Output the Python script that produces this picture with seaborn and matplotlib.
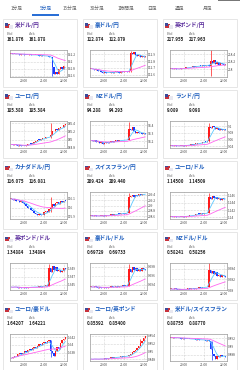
import numpy as np
import pandas as pd
import matplotlib
matplotlib.use("Agg")
import matplotlib.pyplot as plt
import seaborn as sns
from matplotlib.patches import Rectangle

sns.set_style("white")
plt.rcParams['font.family'] = ['Noto Sans CJK JP', 'DejaVu Sans']

# --- data -------------------------------------------------------------
tabs = ["1分足", "5分足", "15分足", "30分足", "1時間足", "日足", "週足", "月足"]

titles = ["米ドル/円", "豪ドル/円", "英ポンド/円",
          "ユーロ/円", "NZドル/円", "ランド/円",
          "カナダドル/円", "スイスフラン/円", "ユーロ/ドル",
          "英ポンド/ドル", "豪ドル/ドル", "NZドル/ドル",
          "ユーロ/豪ドル", "ユーロ/英ポンド", "米ドル/スイスフラン"]
bids = ["161.876", "112.874", "217.955", "185.380", "94.288", "9.089",
        "116.075", "209.424", "1.14500", "1.34884", "0.69729", "0.58241",
        "1.64207", "0.85392", "0.88755"]
asks = ["161.878", "112.879", "217.963", "185.384", "94.293", "9.098",
        "116.081", "209.440", "1.14509", "1.34894", "0.69733", "0.58256",
        "1.64221", "0.85400", "0.88770"]

time_labels = ["20:00", "21:00", "22:00"]
time_index = [8, 20, 32]

usdjpy = [162.22, 162.21, 162.22, 162.20, 162.21, 162.19, 162.20, 162.21, 162.19, 162.18,
          162.19, 162.20, 162.18, 162.17, 162.18, 162.19, 162.17, 162.16, 162.17, 162.15,
          162.16, 162.14, 162.15, 162.13, 162.12, 161.85, 161.66, 161.72, 161.64, 161.78,
          161.84, 161.80, 161.87, 161.876]
audjpy = [112.69, 112.68, 112.67, 112.68, 112.66, 112.65, 112.64, 112.63, 112.64, 112.63,
          112.62, 112.63, 112.64, 112.63, 112.64, 112.65, 112.64, 112.63, 112.65, 112.64,
          112.66, 112.65, 112.64, 112.65, 112.92, 112.90, 112.93, 112.89, 112.87, 112.89,
          112.86, 112.88, 112.86, 112.874]
gbpjpy = [218.02, 218.01, 218.03, 218.02, 218.00, 218.01, 218.03, 218.04, 218.03, 218.05,
          218.06, 218.05, 218.07, 218.08, 218.07, 218.09, 218.08, 218.10, 218.09, 218.11,
          218.10, 218.12, 218.11, 218.10, 218.22, 218.18, 218.25, 218.15, 218.20, 218.12,
          218.16, 218.14, 218.12, 218.13]
eurjpy = [184.88, 184.87, 184.88, 184.86, 184.85, 184.86, 184.84, 184.85, 184.84, 184.86,
          184.88, 184.90, 184.89, 184.92, 184.95, 184.97, 185.00, 184.99, 185.02, 185.04,
          185.03, 185.06, 185.07, 185.06, 185.12, 185.22, 185.20, 185.25, 185.24, 185.29,
          185.31, 185.30, 185.35, 185.38]
nzdjpy = [94.21, 94.20, 94.21, 94.19, 94.20, 94.18, 94.19, 94.17, 94.18, 94.19,
          94.18, 94.19, 94.20, 94.19, 94.20, 94.21, 94.20, 94.21, 94.22, 94.21,
          94.22, 94.21, 94.22, 94.36, 94.34, 94.38, 94.33, 94.31, 94.32, 94.30,
          94.31, 94.29, 94.30, 94.288]
zarjpy = [9.042, 9.041, 9.043, 9.042, 9.040, 9.041, 9.042, 9.043, 9.042, 9.044,
          9.043, 9.045, 9.046, 9.045, 9.047, 9.048, 9.050, 9.049, 9.051, 9.052,
          9.054, 9.053, 9.055, 9.098, 9.094, 9.100, 9.096, 9.092, 9.094, 9.088,
          9.091, 9.088, 9.090, 9.089]
cadjpy = [116.10, 116.09, 116.10, 116.08, 116.07, 116.06, 116.07, 116.05, 116.04, 116.02,
          116.00, 115.99, 115.97, 115.96, 115.94, 115.93, 115.92, 115.93, 115.91, 115.92,
          115.95, 115.96, 115.95, 115.98, 116.00, 116.04, 116.02, 116.05, 116.06, 116.04,
          116.07, 116.06, 116.08, 116.075]
chfjpy = [208.62, 208.61, 208.63, 208.62, 208.60, 208.61, 208.62, 208.63, 208.62, 208.64,
          208.63, 208.65, 208.66, 208.65, 208.67, 208.68, 208.70, 208.69, 208.71, 208.72,
          208.70, 208.72, 208.73, 209.30, 209.35, 209.40, 209.32, 209.38, 209.36, 209.42,
          209.40, 209.44, 209.41, 209.424]
eurusd = [1.1402, 1.1401, 1.1403, 1.1402, 1.1400, 1.1401, 1.1402, 1.1403, 1.1402, 1.1404,
          1.1403, 1.1405, 1.1406, 1.1405, 1.1407, 1.1408, 1.1410, 1.1409, 1.1411, 1.1410,
          1.1412, 1.1411, 1.1413, 1.1455, 1.1450, 1.1458, 1.1452, 1.1456, 1.1449, 1.1453,
          1.1447, 1.1452, 1.1449, 1.1450]
gbpusd = [1.3445, 1.3444, 1.3446, 1.3445, 1.3443, 1.3444, 1.3442, 1.3443, 1.3444, 1.3443,
          1.3445, 1.3444, 1.3446, 1.3445, 1.3444, 1.3446, 1.3445, 1.3447, 1.3446, 1.3448,
          1.3447, 1.3449, 1.3448, 1.3490, 1.3480, 1.3495, 1.3485, 1.3492, 1.3482, 1.3486,
          1.3480, 1.3484, 1.3490, 1.34884]
audusd = [0.6935, 0.6934, 0.6936, 0.6935, 0.6933, 0.6934, 0.6932, 0.6933, 0.6934, 0.6933,
          0.6935, 0.6934, 0.6936, 0.6935, 0.6934, 0.6936, 0.6935, 0.6937, 0.6936, 0.6938,
          0.6937, 0.6938, 0.6937, 0.6975, 0.6968, 0.6980, 0.6972, 0.6977, 0.6970, 0.6974,
          0.6970, 0.6976, 0.6975, 0.69729]
nzdusd = [0.5802, 0.5801, 0.5803, 0.5802, 0.5800, 0.5801, 0.5800, 0.5801, 0.5802, 0.5801,
          0.5803, 0.5802, 0.5804, 0.5803, 0.5802, 0.5804, 0.5803, 0.5805, 0.5804, 0.5806,
          0.5805, 0.5806, 0.5805, 0.5838, 0.5832, 0.5836, 0.5830, 0.5833, 0.5827, 0.5829,
          0.5825, 0.5828, 0.5826, 0.58241]
euraud = [1.6365, 1.6368, 1.6372, 1.6370, 1.6375, 1.6378, 1.6376, 1.6380, 1.6383, 1.6381,
          1.6386, 1.6389, 1.6387, 1.6392, 1.6395, 1.6393, 1.6398, 1.6401, 1.6399, 1.6404,
          1.6407, 1.6405, 1.6410, 1.6412, 1.6383, 1.6378, 1.6372, 1.6385, 1.6395, 1.6390,
          1.6405, 1.6412, 1.6416, 1.6421]
eurgbp = [0.8481, 0.8480, 0.8482, 0.8481, 0.8480, 0.8481, 0.8482, 0.8481, 0.8483, 0.8482,
          0.8484, 0.8483, 0.8485, 0.8484, 0.8486, 0.8485, 0.8487, 0.8486, 0.8488, 0.8487,
          0.8489, 0.8488, 0.8490, 0.8491, 0.8495, 0.8498, 0.8502, 0.8505, 0.8510, 0.8515,
          0.8522, 0.8528, 0.8535, 0.8539]
usdchf = [0.8921, 0.8922, 0.8921, 0.8920, 0.8921, 0.8920, 0.8919, 0.8920, 0.8919, 0.8918,
          0.8919, 0.8918, 0.8917, 0.8918, 0.8917, 0.8916, 0.8917, 0.8916, 0.8915, 0.8916,
          0.8915, 0.8914, 0.8915, 0.8913, 0.8895, 0.8882, 0.8878, 0.8870, 0.8878, 0.8874,
          0.8880, 0.8876, 0.8877, 0.88755]

series = [usdjpy, audjpy, gbpjpy, eurjpy, nzdjpy, zarjpy, cadjpy, chfjpy, eurusd,
          gbpusd, audusd, nzdusd, euraud, eurgbp, usdchf]

# news-spike candle per chart: index, high, low
spike_at = [25, 24, 24, 24, 23, 23, 24, 23, 23, 23, 23, 23, 24, 30, 25]
spike_hi = [162.13, 112.95, 218.50, 185.42, 94.44, 9.110, 116.12, 209.48, 1.1466,
            1.3500, 0.6986, 0.5850, 1.6413, 0.8532, 0.8914]
spike_lo = [161.60, 112.64, 217.82, 185.05, 94.21, 9.054, 115.95, 208.72, 1.1412,
            1.3448, 0.6937, 0.5805, 1.6368, 0.8515, 0.8868]

yticks = [[161.6, 161.8, 162, 162.2], [112.6, 112.7, 112.8, 112.9], [218, 218.2, 218.4],
          [184.8, 185, 185.2, 185.4], [94.2, 94.3, 94.4], [9.04, 9.06, 9.08, 9.1],
          [115.9, 116, 116.1], [208.6, 208.8, 209, 209.2, 209.4], [1.14, 1.142, 1.144, 1.146],
          [1.345, 1.347, 1.349], [0.694, 0.696, 0.698], [0.58, 0.582, 0.584],
          [1.638, 1.64, 1.642], [0.848, 0.85, 0.852, 0.854], [0.888, 0.89, 0.892]]
ylims = [(161.57, 162.32), (112.565, 112.965), (217.80, 218.51), (184.79, 185.46),
         (94.115, 94.455), (9.035, 9.115), (115.869, 116.177), (208.5, 209.5),
         (1.13954, 1.14692), (1.3438, 1.3502), (0.6928, 0.6988), (0.58, 0.58508),
         (1.6358, 1.6428), (0.8476, 0.8545), (0.8865, 0.8930)]

title_colors = ['#5a2d9c', '#1f5fbf', '#5a2d9c', '#1f5fbf', '#1f5fbf', '#1f5fbf',
                '#1f5fbf', '#1f5fbf', '#1f5fbf', '#5a2d9c', '#1f5fbf', '#1f5fbf',
                '#1f5fbf', '#1f5fbf', '#1f5fbf']

# --- figure -----------------------------------------------------------
W, H = 240, 370
fig = plt.figure(figsize=(W / 100, H / 100), dpi=100)
fig.patch.set_facecolor('white')


def fx(px):
    return px / W


def fy(py):
    return 1 - py / H


tab_x = [17, 46, 70, 97, 126, 152, 180, 208]
for i, t in enumerate(tabs):
    fig.text(fx(tab_x[i]), fy(8.5), t, fontsize=3.4, ha='center', va='center',
             color='#1f5fbf' if i == 1 else '#666666')
fig.add_artist(Rectangle((fx(32), fy(15.5)), 27 / W, 1.3 / H, transform=fig.transFigure,
                         color='#2a6fd6', lw=0))
fig.add_artist(Rectangle((0, fy(18.3)), 1, 0.5 / H, transform=fig.transFigure,
                         color='#e4e4e4', lw=0))
fig.add_artist(Rectangle((fx(218), fy(1.2)), 22 / W, 1.2 / H, transform=fig.transFigure,
                         color='#777777', lw=0))

for k, closes in enumerate(series):
    r, c = divmod(k, 3)
    ox, oy = 80 * c, 71 * r

    fig.add_artist(Rectangle((fx(ox + 3), fy(oy + 87)), 74 / W, 68 / H,
                             transform=fig.transFigure, fill=False, ec='#e2e2e2', lw=0.6))
    # flag
    fig.add_artist(Rectangle((fx(ox + 5), fy(oy + 27.5)), 5 / W, 4 / H,
                             transform=fig.transFigure, color='#c8323c', lw=0))
    fig.add_artist(Rectangle((fx(ox + 5), fy(oy + 25.5)), 2.5 / W, 2 / H,
                             transform=fig.transFigure, color='#3a4a9a', lw=0))
    fig.add_artist(Rectangle((fx(ox + 9), fy(oy + 28.5)), 4 / W, 3 / H,
                             transform=fig.transFigure, color='#e8e8f0', lw=0))
    fig.text(fx(ox + 15), fy(oy + 25), titles[k], fontsize=4.1, ha='left', va='center',
             color=title_colors[k], fontweight='bold')
    fig.text(fx(ox + 7), fy(oy + 34), "Bid", fontsize=3.0, ha='left', va='center',
             color='#777777')
    fig.text(fx(ox + 29), fy(oy + 34), "Ask", fontsize=3.0, ha='left', va='center',
             color='#777777')
    fig.text(fx(ox + 7), fy(oy + 39.5), bids[k], fontsize=3.2, ha='left', va='center',
             color='#222222', fontweight='bold')
    fig.text(fx(ox + 29), fy(oy + 39.5), asks[k], fontsize=3.2, ha='left', va='center',
             color='#222222', fontweight='bold')

    ax = fig.add_axes([fx(ox + 10), fy(oy + 77), 56.5 / W, 27 / H])
    s = pd.Series(closes)
    opens = s.shift(1).fillna(s.iloc[0])
    idx = np.arange(len(s))
    up = s >= opens
    lo = np.minimum(opens, s).to_numpy()
    hi = np.maximum(opens, s).to_numpy()
    lo[spike_at[k]] = spike_lo[k]
    hi[spike_at[k]] = spike_hi[k]
    cols = np.where(up, '#ff1a1a', '#1a3cff')
    body = (s - opens).abs().clip(lower=(ylims[k][1] - ylims[k][0]) * 0.02)
    ax.vlines(idx, lo, hi, color=cols, lw=0.5)
    ax.bar(idx, body, bottom=np.minimum(opens, s), width=0.85, color=cols, lw=0)
    sns.lineplot(x=idx, y=s.rolling(5, min_periods=1).mean(), ax=ax, color='#5cc8ff', lw=0.6)
    sns.lineplot(x=idx, y=s.rolling(25, min_periods=1).mean(), ax=ax, color='#ff66f0', lw=0.6)

    ax.set_xlim(-0.7, len(s) - 0.3)
    ax.set_ylim(*ylims[k])
    ax.set_yticks(yticks[k])
    ax.set_yticklabels([f"{v:g}" for v in yticks[k]])
    ax.set_xticks(time_index)
    ax.set_xticklabels(time_labels)
    ax.yaxis.tick_right()
    ax.tick_params(length=0, labelsize=2.3, colors='#444444', pad=1.2)
    ax.grid(True, ls=':', lw=0.4, color='#b0b0b0')
    ax.set_xlabel('')
    ax.set_ylabel('')
    for sp in ax.spines.values():
        sp.set_color('#999999')
        sp.set_linewidth(0.5)

fig.savefig("out.png", dpi=100)
